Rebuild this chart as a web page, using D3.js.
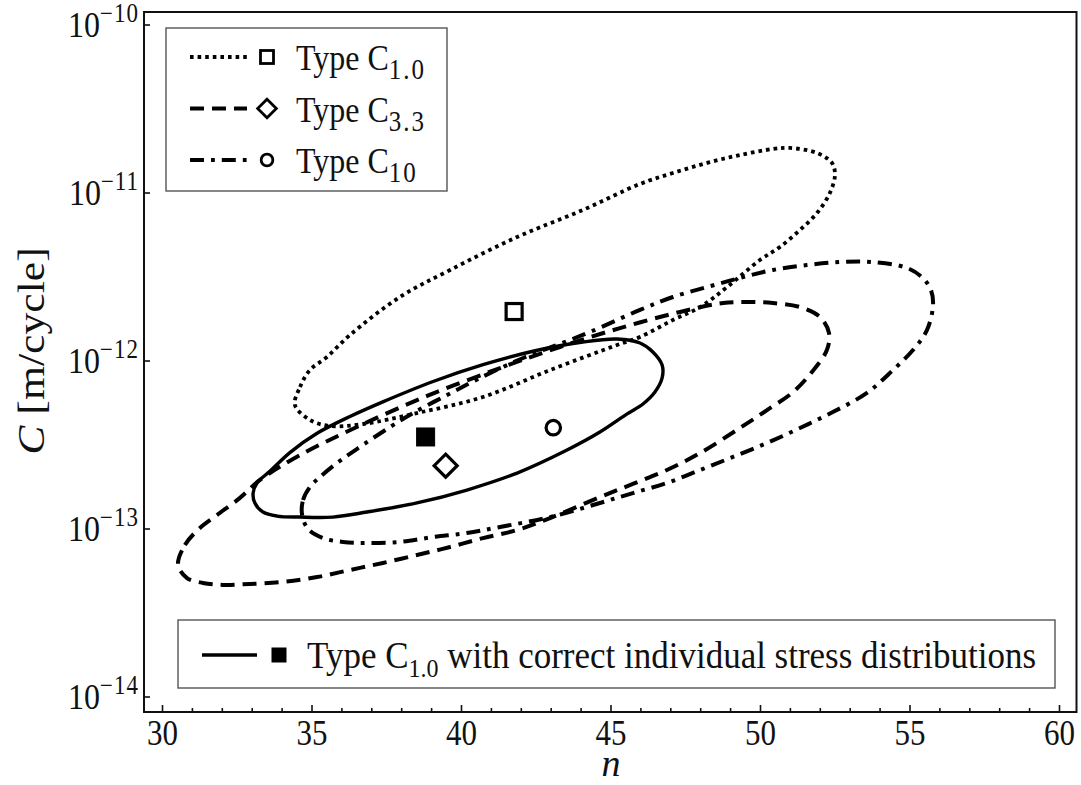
<!DOCTYPE html>
<html>
<head>
<meta charset="utf-8">
<script src="https://cdn.jsdelivr.net/npm/d3@7"></script>
<style>
  body { margin: 0; background: #fff; }
  svg { display: block; }
  text { font-family: "Liberation Serif", "Times New Roman", serif; fill: #111; }
</style>
</head>
<body>
<svg id="chart" width="1081" height="785"></svg>
<script>
// Confidence contours in the (n, log10 C) plane, one point list per specimen type.
const contourC1 = [
  [34.43,-12.262],[34.60,-12.155],[34.93,-12.054],[35.50,-11.976],[36.27,-11.845],
  [37.94,-11.619],[39.62,-11.458],[41.86,-11.262],[44.06,-11.101],[45.97,-10.946],
  [47.07,-10.881],[48.21,-10.821],[49.31,-10.774],[50.42,-10.738],[50.99,-10.732],
  [51.89,-10.762],[52.39,-10.821],[52.49,-10.893],[52.32,-11.000],[51.89,-11.119],
  [51.32,-11.220],[50.65,-11.321],[49.98,-11.399],[48.88,-11.560],[47.98,-11.679],
  [47.07,-11.756],[45.97,-11.857],[45.20,-11.905],[42.96,-12.054],[40.72,-12.214],
  [38.51,-12.310],[36.71,-12.375],[35.60,-12.387],[34.93,-12.351]
];
const contourC33 = [
  [30.52,-13.214],[30.75,-13.095],[31.25,-12.994],[31.82,-12.917],[32.59,-12.815],
  [33.26,-12.708],[34.60,-12.560],[36.50,-12.393],[38.85,-12.208],[41.29,-12.042],
  [43.29,-11.917],[45.30,-11.804],[47.31,-11.708],[48.75,-11.655],[49.65,-11.649],
  [50.42,-11.655],[51.32,-11.679],[51.99,-11.738],[52.29,-11.833],[52.22,-11.935],
  [51.72,-12.065],[51.09,-12.185],[50.22,-12.292],[49.31,-12.399],[47.98,-12.548],
  [46.87,-12.649],[45.73,-12.732],[44.63,-12.810],[42.96,-12.935],[41.86,-13.006],
  [40.72,-13.054],[39.62,-13.107],[38.51,-13.155],[37.37,-13.202],[36.27,-13.244],
  [35.17,-13.286],[34.03,-13.315],[32.93,-13.327],[32.02,-13.333],[31.35,-13.321],
  [30.82,-13.292]
];
const contourC10 = [
  [34.67,-12.917],[34.70,-12.827],[34.93,-12.750],[35.27,-12.690],[35.84,-12.607],
  [36.50,-12.524],[37.61,-12.393],[38.38,-12.310],[39.52,-12.202],[40.62,-12.101],
  [42.06,-11.982],[43.19,-11.905],[44.30,-11.827],[45.97,-11.696],[47.07,-11.619],
  [48.21,-11.560],[49.31,-11.506],[50.42,-11.458],[51.55,-11.429],[52.66,-11.411],
  [53.76,-11.411],[54.90,-11.446],[55.43,-11.506],[55.70,-11.577],[55.77,-11.667],
  [55.57,-11.815],[55.10,-11.935],[54.43,-12.054],[53.56,-12.190],[52.42,-12.304],
  [51.32,-12.399],[50.22,-12.488],[49.08,-12.571],[47.98,-12.649],[46.87,-12.726],
  [45.73,-12.786],[44.63,-12.845],[42.96,-12.929],[41.29,-12.988],[40.18,-13.024],
  [39.05,-13.048],[37.94,-13.077],[36.84,-13.083],[36.04,-13.077],[35.37,-13.054],
  [34.87,-13.000]
];
const contourC1Corrected = [
  [33.03,-12.786],[33.16,-12.726],[33.60,-12.655],[34.26,-12.545],[35.17,-12.430],
  [36.27,-12.330],[37.37,-12.243],[39.05,-12.122],[40.72,-12.022],[42.39,-11.942],
  [44.06,-11.887],[45.20,-11.869],[45.97,-11.893],[46.40,-11.946],[46.71,-12.024],
  [46.71,-12.101],[46.47,-12.185],[46.07,-12.256],[45.54,-12.315],[44.63,-12.423],
  [43.53,-12.530],[41.86,-12.667],[40.18,-12.768],[38.51,-12.845],[36.84,-12.899],
  [35.70,-12.929],[34.60,-12.929],[33.83,-12.923],[33.36,-12.899],[33.09,-12.845]
];

// Best-fit estimates (n, C) for each type
const estimateN = [41.76, 39.47, 43.07, 38.80];
const estimateC = [1.97e-12, 2.38e-13, 4.01e-13, 3.53e-13];

const typeSubscripts = ["1.0", "3.3", "10"];
const xTickValues = [30, 35, 40, 45, 50, 55, 60];
const xMinorTicks = d3.range(30, 61, 1);
const yTickExponents = [-14, -13, -12, -11, -10];

const SY = 1.15; // vertical stretch of lettering

const svg = d3.select("#chart");
const W = 1081, H = 785;
const plot = { left: 144, right: 1076.5, top: 12, bottom: 712 };

const x = d3.scaleLinear().domain([29.381, 60.569]).range([plot.left, plot.right]);
const y = d3.scaleLog().domain([Math.pow(10, -14.0893), Math.pow(10, -9.9226)]).range([plot.bottom, plot.top]);

svg.append("rect").attr("width", W).attr("height", H).attr("fill", "#fff");

const styles = {
  dotted:  { width: 3.8, dash: "3.6,4" },
  dashed:  { width: 4, dash: "14,8" },
  dashdot: { width: 4, dash: "14,7,3.8,7" },
  solid:   { width: 3.4, dash: null }
};

const contourLine = d3.line()
  .x(d => x(d[0]))
  .y(d => y(Math.pow(10, d[1])))
  .curve(d3.curveCatmullRomClosed.alpha(0.5));

svg.append("clipPath").attr("id", "plotClip")
  .append("rect").attr("x", plot.left).attr("y", plot.top)
  .attr("width", plot.right - plot.left).attr("height", plot.bottom - plot.top);

const gPlot = svg.append("g").attr("clip-path", "url(#plotClip)");

const contours = [
  { pts: contourC1, style: styles.dotted },
  { pts: contourC33, style: styles.dashed },
  { pts: contourC10, style: styles.dashdot },
  { pts: contourC1Corrected, style: styles.solid }
];

contours.forEach(c => {
  gPlot.append("path")
    .attr("d", contourLine(c.pts))
    .attr("fill", "none")
    .attr("stroke", "#000")
    .attr("stroke-width", c.style.width)
    .attr("stroke-dasharray", c.style.dash)
    .attr("stroke-linejoin", "round");
});

// Marker shapes
const shapes = ["square", "diamond", "circle", "filledSquare"];
function drawMarker(g, shape, cx, cy, s, sw) {
  if (shape === "square" || shape === "filledSquare") {
    g.append("rect").attr("x", cx - s / 2).attr("y", cy - s / 2)
      .attr("width", s).attr("height", s)
      .attr("fill", shape === "filledSquare" ? "#000" : "#fff")
      .attr("stroke", "#000").attr("stroke-width", shape === "filledSquare" ? 1 : sw);
  } else if (shape === "diamond") {
    const r = s * 0.72;
    g.append("path")
      .attr("d", `M${cx},${cy - r}L${cx + r},${cy}L${cx},${cy + r}L${cx - r},${cy}Z`)
      .attr("fill", "#fff").attr("stroke", "#000").attr("stroke-width", sw)
      .attr("stroke-linejoin", "miter");
  } else {
    g.append("circle").attr("cx", cx).attr("cy", cy).attr("r", s * 0.45)
      .attr("fill", "#fff").attr("stroke", "#000").attr("stroke-width", sw);
  }
}

estimateN.forEach((n, i) => {
  drawMarker(gPlot, shapes[i], x(n), y(estimateC[i]), i === 3 ? 18 : 16, 3.2);
});

// Frame
svg.append("rect")
  .attr("x", plot.left).attr("y", plot.top)
  .attr("width", plot.right - plot.left).attr("height", plot.bottom - plot.top)
  .attr("fill", "none").attr("stroke", "#111").attr("stroke-width", 2);

// X ticks (inward)
const gx = svg.append("g");
gx.selectAll("line.minor").data(xMinorTicks).join("line")
  .attr("x1", d => x(d)).attr("x2", d => x(d))
  .attr("y1", plot.bottom).attr("y2", d => plot.bottom - (d % 5 === 0 ? 7 : 4))
  .attr("stroke", "#111").attr("stroke-width", 1.6);

xTickValues.forEach(v => {
  gx.append("g")
    .attr("transform", `translate(${x(v)},745) scale(1,${SY})`)
    .append("text")
    .attr("text-anchor", "middle")
    .attr("font-size", 31)
    .text(v);
});

// Y ticks (decades, inward)
const gy = svg.append("g");
yTickExponents.forEach(e => {
  const yy = y(Math.pow(10, e));
  gy.append("line")
    .attr("x1", plot.left).attr("x2", plot.left + 6)
    .attr("y1", yy).attr("y2", yy)
    .attr("stroke", "#111").attr("stroke-width", 1.6);
  const t = gy.append("g")
    .attr("transform", `translate(139,${yy + 12}) scale(1,${SY})`)
    .append("text")
    .attr("text-anchor", "end")
    .attr("font-size", 32);
  t.append("tspan").text("10");
  t.append("tspan").attr("font-size", 23).attr("dy", -13).attr("letter-spacing", 1).text("\u2212" + Math.abs(e));
});

// Axis titles
svg.append("text")
  .attr("x", 611).attr("y", 776)
  .attr("text-anchor", "middle")
  .attr("font-size", 38)
  .attr("font-style", "italic")
  .text("n");

const yt = svg.append("g")
  .attr("transform", `translate(44,351) rotate(-90) scale(${SY},1)`)
  .append("text")
  .attr("text-anchor", "middle")
  .attr("font-size", 38);
yt.append("tspan").attr("font-style", "italic").text("C");
yt.append("tspan").text(" [m/cycle]");

// Legend: specimen types
const legend1 = svg.append("g");
legend1.append("rect")
  .attr("x", 166).attr("y", 28).attr("width", 281).attr("height", 163)
  .attr("fill", "#fff").attr("stroke", "#555").attr("stroke-width", 1.4);

const legendStyles = [styles.dotted, styles.dashed, styles.dashdot];
typeSubscripts.forEach((sub, i) => {
  const cy = 57 + i * 51.5;
  legend1.append("line")
    .attr("x1", 190).attr("x2", 247).attr("y1", cy).attr("y2", cy)
    .attr("stroke", "#000").attr("stroke-width", legendStyles[i].width)
    .attr("stroke-dasharray", legendStyles[i].dash);
  drawMarker(legend1, shapes[i], 267, cy, 13, 2.8);
  const t = legend1.append("g")
    .attr("transform", `translate(296,${cy + 13}) scale(1,${SY})`)
    .append("text").attr("font-size", 32);
  t.append("tspan").text("Type C");
  t.append("tspan").attr("font-size", 25).attr("dy", 8).attr("letter-spacing", 2).text(sub);
});

// Legend: corrected stress distributions
const legend2 = svg.append("g");
legend2.append("rect")
  .attr("x", 178).attr("y", 620).attr("width", 877).attr("height", 68)
  .attr("fill", "#fff").attr("stroke", "#555").attr("stroke-width", 1.4);
legend2.append("line")
  .attr("x1", 202).attr("x2", 257).attr("y1", 655).attr("y2", 655)
  .attr("stroke", "#000").attr("stroke-width", styles.solid.width);
drawMarker(legend2, "filledSquare", 279, 655, 14, 1);
const t2 = legend2.append("g")
  .attr("transform", `translate(307,668) scale(1,1.08)`)
  .append("text").attr("font-size", 35);
t2.append("tspan").text("Type C");
t2.append("tspan").attr("font-size", 24).attr("dy", 8).text(typeSubscripts[0]);
t2.append("tspan").attr("dy", -8).text(" with correct individual stress distributions");
</script>
</body>
</html>
